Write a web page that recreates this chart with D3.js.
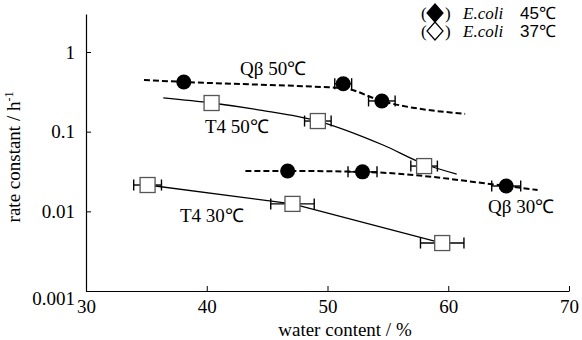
<!DOCTYPE html>
<html>
<head>
<meta charset="utf-8">
<script src="https://cdn.jsdelivr.net/npm/d3@7"></script>
<style>
  body { margin: 0; background: #fff; }
  svg { display: block; }
  text { font-family: "Liberation Serif", "Times New Roman", serif; fill: #000; }
</style>
</head>
<body>
<svg id="chart" width="582" height="340"></svg>
<script>
// x ticks / y ticks
var xTicks = [30, 40, 50, 60, 70];
var yTicks = [0.001, 0.01, 0.1, 1];

// Q-beta 50C (E.coli 45C, filled)
var qb50Water = [38.1, 51.3, 54.5];
var qb50Rate = [0.42, 0.40, 0.243];
var qb50Err = [0, 0.7, 1.1];
var qb50FitWater = [34.8, 38.1, 49.5, 51.3, 54.5, 61.4];
var qb50FitRate = [0.445, 0.421, 0.364, 0.353, 0.243, 0.167];

// T4 50C (E.coli 37C, open)
var t450Water = [40.4, 49.2, 58.0];
var t450Rate = [0.229, 0.136, 0.037];
var t450Err = [0, 1.1, 1.1];
var t450FitWater = [36.4, 40.4, 44.4, 49.2, 54.6, 58.0, 60.7];
var t450FitRate = [0.265, 0.229, 0.187, 0.136, 0.068, 0.0393, 0.0294];

// Q-beta 30C (filled)
var qb30Water = [46.7, 52.9, 64.8];
var qb30Rate = [0.0321, 0.0313, 0.0208];
var qb30Err = [0, 1.2, 1.2];
var qb30FitWater = [43.2, 46.7, 52.9, 64.8, 67.4];
var qb30FitRate = [0.0321, 0.0321, 0.0313, 0.0208, 0.0185];

// T4 30C (open)
var t430Water = [35.1, 47.1, 59.5];
var t430Rate = [0.0214, 0.0124, 0.0040];
var t430Err = [1.15, 1.8, 1.8];

var svg = d3.select("#chart");

var x = d3.scaleLinear().domain([30, 70]).range([86, 569]);
var y = d3.scaleLog().domain([0.001, 3]).range([291, 14]);

function zip(a, b, e) {
  return a.map(function (v, i) { return { x: v, y: b[i], e: e ? e[i] : 0 }; });
}

var series = [
  { pts: zip(qb50Water, qb50Rate, qb50Err), fit: zip(qb50FitWater, qb50FitRate), filled: true, dashed: true, curve: d3.curveMonotoneX },
  { pts: zip(t450Water, t450Rate, t450Err), fit: zip(t450FitWater, t450FitRate), filled: false, dashed: false, curve: d3.curveMonotoneX },
  { pts: zip(qb30Water, qb30Rate, qb30Err), fit: zip(qb30FitWater, qb30FitRate), filled: true, dashed: true, curve: d3.curveMonotoneX },
  { pts: zip(t430Water, t430Rate, t430Err), fit: zip(t430Water, t430Rate), filled: false, dashed: false, curve: d3.curveLinear }
];

// axes
var xAxis = d3.axisBottom(x).tickValues(xTicks).tickSizeInner(-5).tickSizeOuter(0).tickPadding(9);
var yAxis = d3.axisLeft(y).tickValues(yTicks).tickSizeInner(-5).tickSizeOuter(0).tickPadding(11)
  .tickFormat(function (d) { return String(d); });

var gx = svg.append("g").attr("transform", "translate(0,291)").call(xAxis);
var gy = svg.append("g").attr("transform", "translate(86,0)").call(yAxis);
[gx, gy].forEach(function (g) {
  g.select(".domain").attr("stroke", "#000").attr("stroke-width", 1.2);
  g.selectAll(".tick line").attr("stroke", "#000").attr("stroke-width", 1);
  g.selectAll(".tick text").style("font-family", '"Liberation Serif", serif').style("font-size", "19px").attr("fill", "#000");
});
gy.selectAll(".tick").filter(function (d) { return d === 0.001; }).select("text").attr("dy", "0.7em");

svg.append("text").attr("x", 345).attr("y", 336).attr("text-anchor", "middle")
  .style("font-size", "19px").text("water content / %");

var yl = svg.append("text").attr("transform", "translate(20,157) rotate(-90)").attr("text-anchor", "middle")
  .style("font-size", "19px");
yl.append("tspan").text("rate constant / h");
yl.append("tspan").attr("dy", "-7").style("font-size", "12px").text("-1");

// fit lines
series.forEach(function (s) {
  var line = d3.line().x(function (d) { return x(d.x); }).y(function (d) { return y(d.y); }).curve(s.curve);
  svg.append("path").datum(s.fit).attr("d", line).attr("fill", "none").attr("stroke", "#000")
    .attr("stroke-width", s.dashed ? 2 : 1.3)
    .attr("stroke-dasharray", s.dashed ? "6,3" : null);
});

// error bars
series.forEach(function (s) {
  var eb = svg.append("g").selectAll("g").data(s.pts.filter(function (d) { return d.e > 0; })).enter().append("g");
  eb.append("line").attr("x1", function (d) { return x(d.x - d.e); }).attr("x2", function (d) { return x(d.x + d.e); })
    .attr("y1", function (d) { return y(d.y); }).attr("y2", function (d) { return y(d.y); })
    .attr("stroke", "#000").attr("stroke-width", 1.4);
  [-1, 1].forEach(function (sg) {
    eb.append("line").attr("x1", function (d) { return x(d.x + sg * d.e); }).attr("x2", function (d) { return x(d.x + sg * d.e); })
      .attr("y1", function (d) { return y(d.y) - 5.5; }).attr("y2", function (d) { return y(d.y) + 5.5; })
      .attr("stroke", "#000").attr("stroke-width", 1.4);
  });
});

// markers
series.forEach(function (s) {
  var g = svg.append("g");
  if (s.filled) {
    g.selectAll("circle").data(s.pts).enter().append("circle")
      .attr("cx", function (d) { return x(d.x); }).attr("cy", function (d) { return y(d.y); })
      .attr("r", 7.5).attr("fill", "#000");
  } else {
    g.selectAll("rect").data(s.pts).enter().append("rect")
      .attr("x", function (d) { return x(d.x) - 7.5; }).attr("y", function (d) { return y(d.y) - 7.5; })
      .attr("width", 15).attr("height", 15).attr("fill", "#fff").attr("stroke", "#555").attr("stroke-width", 1.3);
  }
});

// curve labels
var labels = [
  { t: "Q\u03b2 50\u2103", x: 240, y: 75 },
  { t: "T4 50\u2103", x: 205, y: 133 },
  { t: "T4 30\u2103", x: 180, y: 222 },
  { t: "Q\u03b2 30\u2103", x: 488, y: 213 }
];
svg.selectAll(".clab").data(labels).enter().append("text").attr("class", "clab")
  .attr("x", function (d) { return d.x; }).attr("y", function (d) { return d.y; })
  .style("font-size", "19px").text(function (d) { return d.t; });

// legend
var legend = [
  { fill: "#000", temp: "45\u2103", yb: 19 },
  { fill: "#fff", temp: "37\u2103", yb: 37 }
];
legend.forEach(function (L) {
  var cy = L.yb - 6;
  svg.append("text").attr("x", 421).attr("y", L.yb).style("font-size", "17px").text("(");
  svg.append("path").attr("d", "M435," + (cy - 9) + "L443," + cy + "L435," + (cy + 9) + "L427," + cy + "Z")
    .attr("fill", L.fill).attr("stroke", "#000").attr("stroke-width", 1.2);
  svg.append("text").attr("x", 445).attr("y", L.yb).style("font-size", "17px").text(")");
  svg.append("text").attr("x", 463).attr("y", L.yb).style("font-size", "17px").style("font-style", "italic").text("E.coli");
  svg.append("text").attr("x", 520).attr("y", L.yb).style("font-size", "17px")
    .style("font-family", '"Liberation Sans", Arial, sans-serif').text(L.temp);
});
</script>
</body>
</html>
